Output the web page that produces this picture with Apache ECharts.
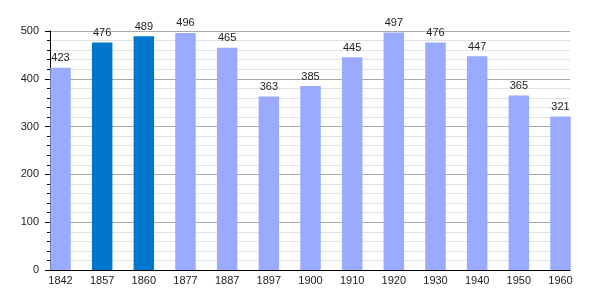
<!DOCTYPE html>
<html>
<head>
<meta charset="utf-8">
<script src="https://cdn.jsdelivr.net/npm/echarts@6/dist/echarts.min.js"></script>
<style>html,body{margin:0;padding:0;background:#fff}#c{width:600px;height:300px}</style>
</head>
<body>
<div id="c"></div>
<script>
var years = ['1842','1857','1860','1877','1887','1897','1900','1910','1920','1930','1940','1950','1960'];
var population = [423, 476, 489, 496, 465, 363, 385, 445, 497, 476, 447, 365, 321];
var highlighted = ['1857','1860'];
var yTicks = [0, 100, 200, 300, 400, 500];

var LIGHT = '#99aaff', DARK = '#0077cc';
var chart = echarts.init(document.getElementById('c'), null, {renderer: 'canvas'});
var font = 'Liberation Sans, Arial, sans-serif';
chart.setOption({
  animation: false,
  backgroundColor: '#fff',
  grid: [
    {left: 50, right: 30, top: 31, bottom: 30},
    {left: 60.5, right: 39.5, top: 31, bottom: 30}
  ],
  xAxis: [
    {gridIndex: 0, type: 'value', min: 0, max: 1, z: 5,
     axisLine: {show: true, onZero: false, lineStyle: {color: '#000', width: 1}},
     axisTick: {show: false}, axisLabel: {show: false}, splitLine: {show: false}},
    {gridIndex: 1, type: 'category', data: years, boundaryGap: false,
     axisLine: {show: false}, axisTick: {show: false},
     axisLabel: {color: '#222', fontSize: 11, fontFamily: font, margin: 5, interval: 0},
     splitLine: {show: false}}
  ],
  yAxis: [
    {gridIndex: 0, type: 'value', min: yTicks[0], max: yTicks[yTicks.length-1], interval: yTicks[1]-yTicks[0], z: 0,
     axisLine: {show: true, lineStyle: {color: '#000', width: 1}},
     axisTick: {show: true, length: 5, lineStyle: {color: '#000'}},
     minorTick: {show: true, splitNumber: 5, length: 3, lineStyle: {color: '#000'}},
     axisLabel: {color: '#222', fontSize: 11, fontFamily: font, margin: 11},
     splitLine: {show: true, lineStyle: {color: '#aaaaaa', width: 1}},
     minorSplitLine: {show: true, lineStyle: {color: '#e2e2e2', width: 1}}},
    {gridIndex: 1, type: 'value', min: yTicks[0], max: yTicks[yTicks.length-1], show: false}
  ],
  series: [{
    type: 'bar', xAxisIndex: 1, yAxisIndex: 1, barWidth: 20.5, z: 3,
    data: population.map(function(v, i){
      return {value: v, itemStyle: {color: highlighted.indexOf(years[i]) >= 0 ? DARK : LIGHT}};
    }),
    label: {show: true, position: 'top', distance: 4, color: '#222', fontSize: 11, fontFamily: font}
  }]
});
</script>
</body>
</html>
